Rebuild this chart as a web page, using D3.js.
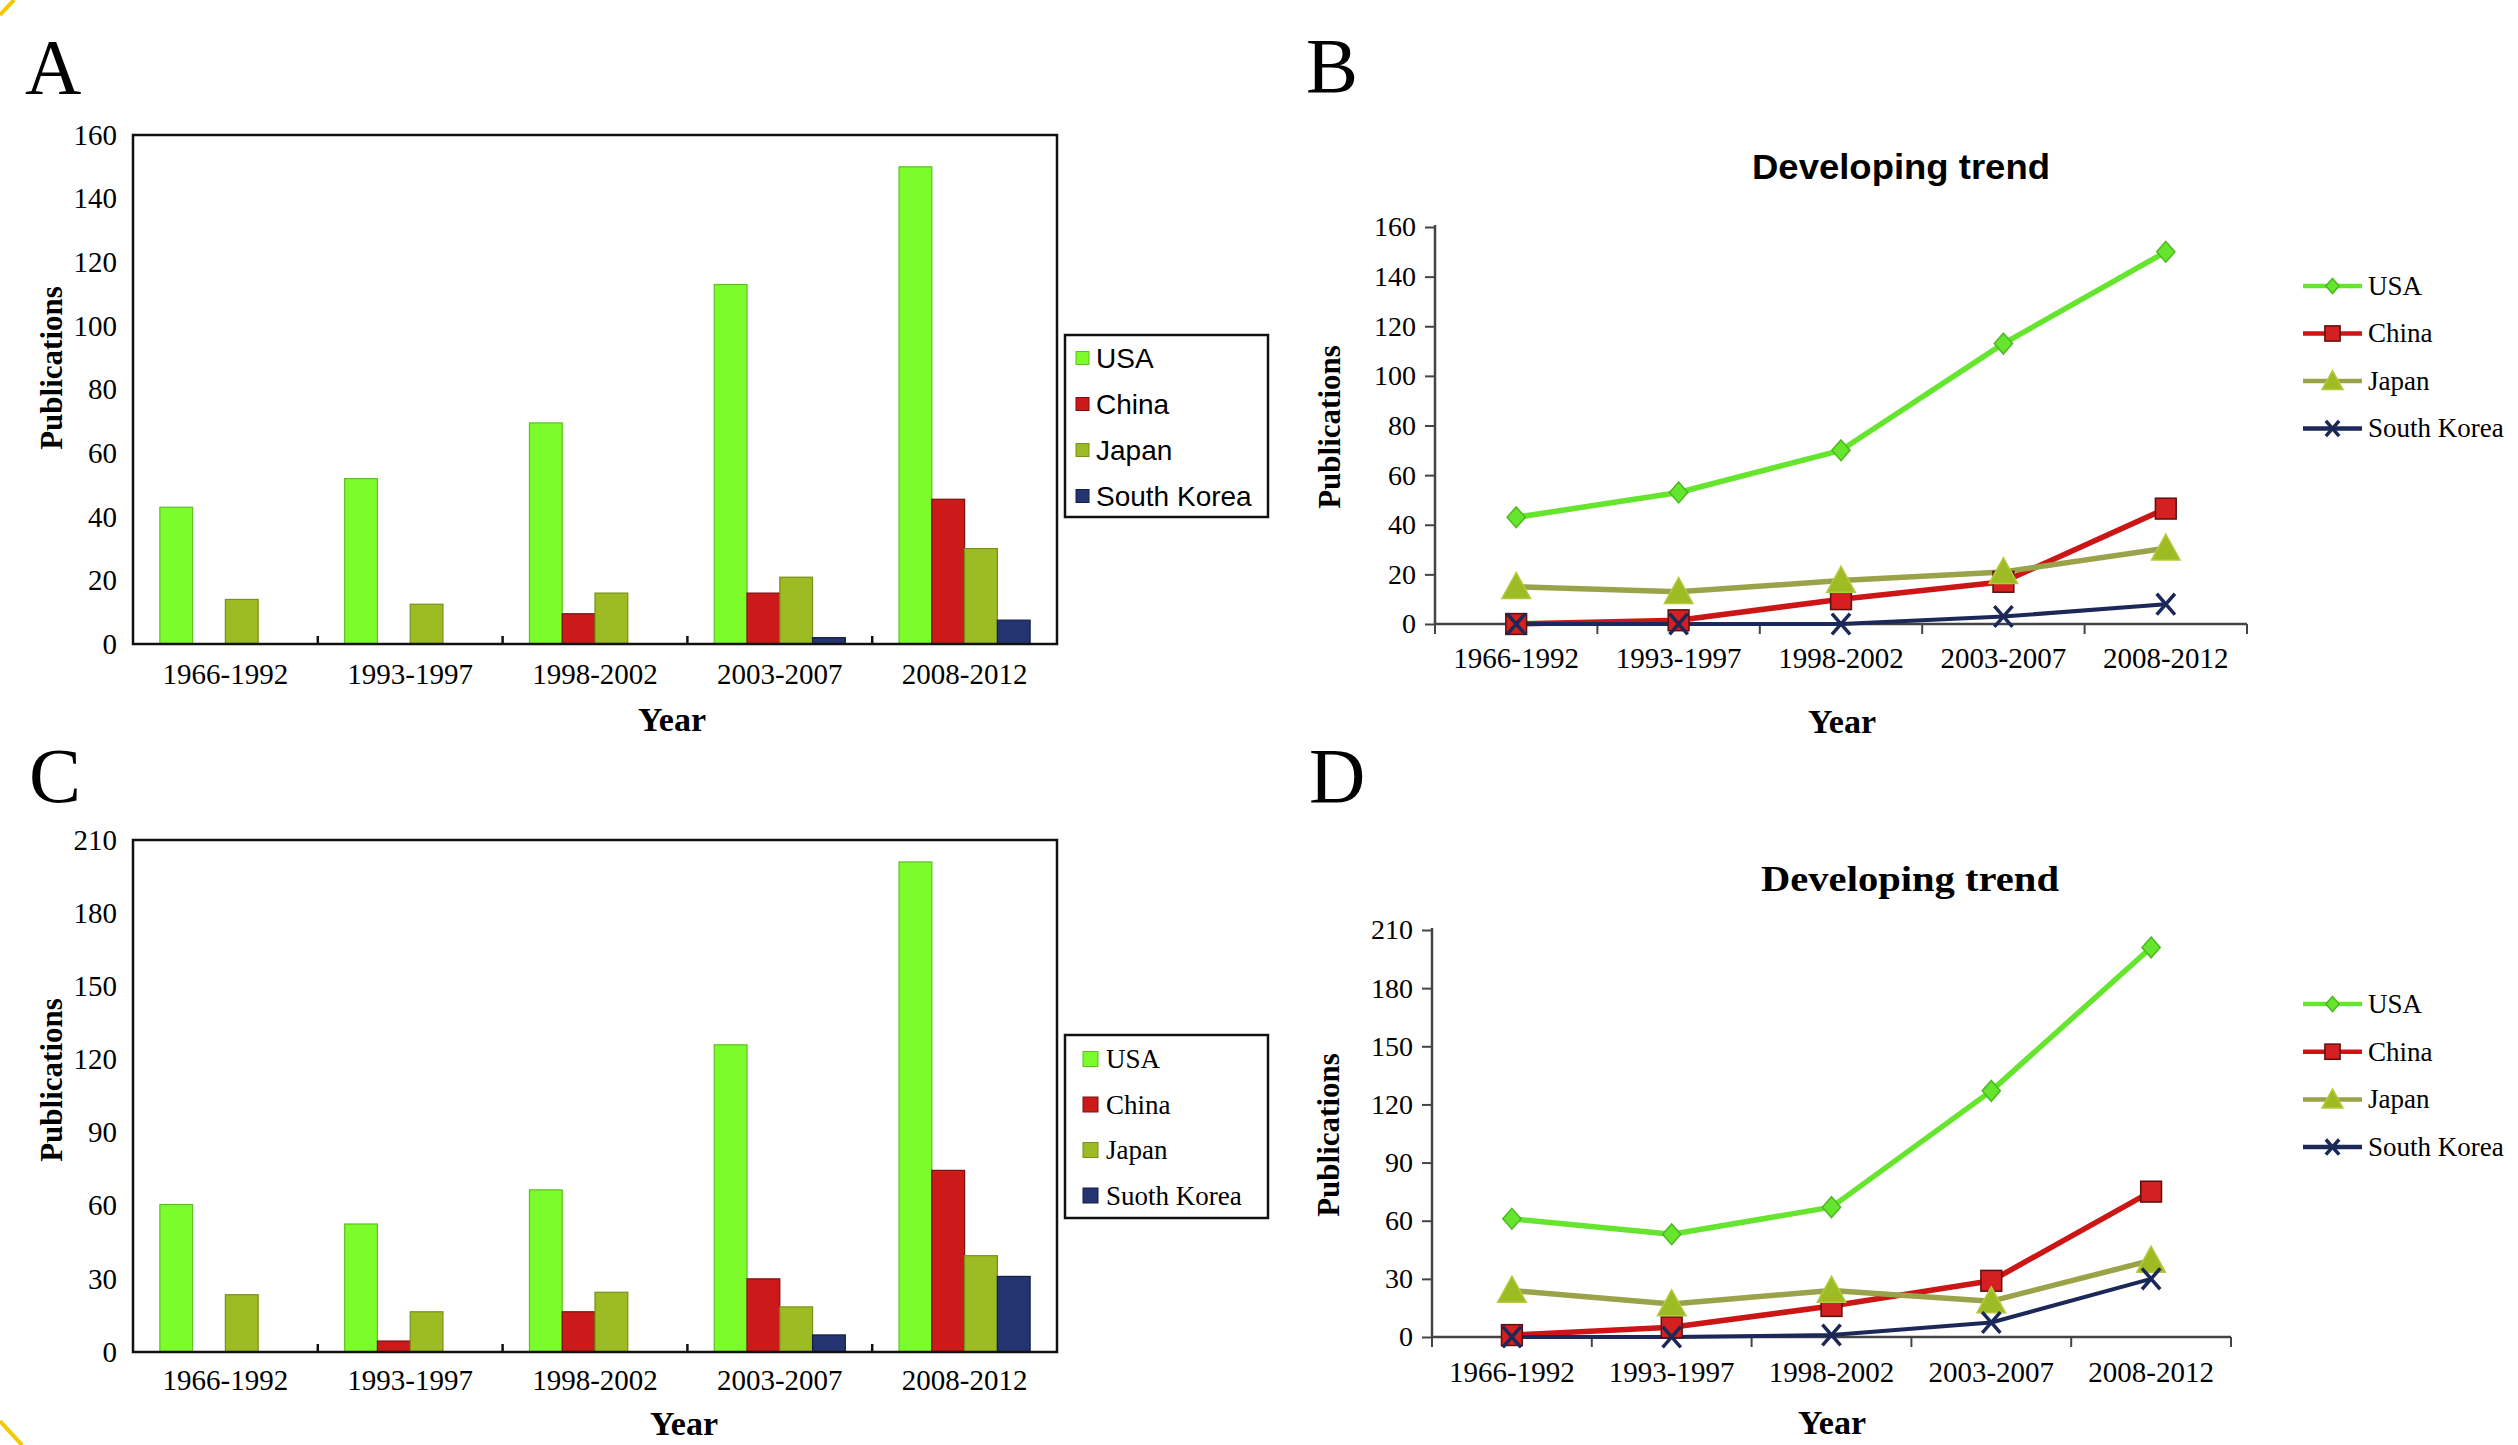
<!DOCTYPE html>
<html>
<head>
<meta charset="utf-8">
<script src="https://cdn.jsdelivr.net/npm/d3@7"></script>
<style>
  body { margin: 0; background: #fff; }
  svg { display: block; }
</style>
</head>
<body>
<svg id="chart"></svg>
<script>
// periods and countries
const periods = ["1966-1992", "1993-1997", "1998-2002", "2003-2007", "2008-2012"];
const countries = ["USA", "China", "Japan", "South Korea"];
const legendC = ["USA", "China", "Japan", "Suoth Korea"];

// panel A (bars)
const usaA = [43, 52, 69.5, 113, 150];
const chinaA = [0, 0, 9.5, 16, 45.5];
const japanA = [14, 12.5, 16, 21, 30];
const koreaA = [0, 0, 0, 2, 7.5];
// panel B (lines)
const usaB = [43, 53, 70, 113, 150];
const chinaB = [0, 1.5, 10, 17, 46.5];
const japanB = [15, 13, 17.5, 21, 30.5];
const koreaB = [0, 0, 0, 3, 8];
// panel C (bars)
const usaC = [60.5, 52.5, 66.5, 126, 201];
const chinaC = [0, 4.5, 16.5, 30, 74.5];
const japanC = [23.5, 16.5, 24.5, 18.5, 39.5];
const koreaC = [0, 0, 0, 7, 31];
// panel D (lines)
const usaD = [61, 53, 67, 127, 201];
const chinaD = [1, 5, 16, 29, 75];
const japanD = [24, 17, 24, 18.5, 39.5];
const koreaD = [0, 0, 1, 7.5, 30];

const ticksAB = [0, 20, 40, 60, 80, 100, 120, 140, 160];
const ticksCD = [0, 30, 60, 90, 120, 150, 180, 210];

const W = 2518, H = 1445;
const serif = "'Liberation Serif', 'Times New Roman', serif";
const sans = "'Liberation Sans', Arial, sans-serif";

const barFill = ["#7CFC2A", "#CC1A1A", "#9DBB22", "#233470"];
const barEdge = ["#5EC020", "#7A1010", "#7A9018", "#141E45"];
const lineCol = ["#66E52E", "#CC1515", "#9BA34A", "#1C2858"];
const mkFill = ["#66E52E", "#D42020", "#9DBB22", "none"];
const mkEdge = ["#4BB81E", "#5A1010", "#B5C93E", "#1C2858"];

const svg = d3.select("#chart").attr("width", W).attr("height", H);
svg.append("rect").attr("width", W).attr("height", H).attr("fill", "#fff");

// yellow corner marks
svg.append("line").attr("x1", 0).attr("y1", 15).attr("x2", 14).attr("y2", 0)
    .attr("stroke", "#F5C800").attr("stroke-width", 4);
svg.append("line").attr("x1", 0).attr("y1", 1421).attr("x2", 22).attr("y2", 1445)
    .attr("stroke", "#F5C800").attr("stroke-width", 4);

function marker(sel, k, s) {
    // s = scale of the marker
    if (k == 0) sel.append("path").attr("d", `M0,${-8*s}L${7*s},0L0,${8*s}L${-7*s},0Z`);
    else if (k == 1) sel.append("rect").attr("x", -8*s).attr("y", -8*s).attr("width", 16*s).attr("height", 16*s);
    else if (k == 2) sel.append("path").attr("d", `M0,${-11*s}L${11*s},${9*s}L${-11*s},${9*s}Z`);
    else sel.append("path").attr("d", `M${-7*s},${-8*s}L${7*s},${8*s}M${-7*s},${8*s}L${7*s},${-8*s}`);
    sel.selectAll("path,rect")
        .attr("fill", mkFill[k])
        .attr("stroke", mkEdge[k])
        .attr("stroke-width", k == 3 ? 3.5 : 1.5);
}

function barPanel(p) {
    const g = svg.append("g");
    const x0 = d3.scaleBand().domain(periods).range([p.left, p.right]);
    const x1 = d3.scaleBand().domain(countries).range([0, x0.bandwidth()]).paddingOuter(0.82);
    const y = d3.scaleLinear().domain([0, p.yMax]).range([p.bottom, p.top]);

    g.append("text").text(p.letter).attr("x", p.lx).attr("y", p.ly)
        .attr("font-family", serif).attr("font-size", 78);

    const rows = periods.flatMap((per, i) =>
        countries.map((c, j) => ({ per: per, c: c, j: j, v: p.series[j][i] })))
        .filter(d => d.v > 0);

    g.append("g").selectAll("rect").data(rows).enter().append("rect")
        .attr("x", d => x0(d.per) + x1(d.c))
        .attr("y", d => y(d.v))
        .attr("width", x1.bandwidth())
        .attr("height", d => y(0) - y(d.v))
        .attr("fill", d => barFill[d.j])
        .attr("stroke", d => barEdge[d.j])
        .attr("stroke-width", 1.2);

    g.append("rect").attr("x", p.left).attr("y", p.top)
        .attr("width", p.right - p.left).attr("height", p.bottom - p.top)
        .attr("fill", "none").attr("stroke", "#111").attr("stroke-width", 2.5);

    // inner ticks between categories
    g.append("g").selectAll("line").data(periods.slice(1)).enter().append("line")
        .attr("x1", d => x0(d)).attr("x2", d => x0(d))
        .attr("y1", p.bottom).attr("y2", p.bottom - 8)
        .attr("stroke", "#111").attr("stroke-width", 2.5);

    const ya = g.append("g").attr("transform", `translate(${p.left},0)`)
        .call(d3.axisLeft(y).tickValues(p.ticks).tickSize(0).tickPadding(16));
    ya.select(".domain").remove();
    ya.selectAll("text").attr("font-family", serif).attr("font-size", 29).attr("fill", "#000");

    g.append("g").selectAll("text").data(periods).enter().append("text")
        .text(d => d)
        .attr("x", d => x0(d) + x0.bandwidth() / 2).attr("y", p.labelY)
        .attr("text-anchor", "middle")
        .attr("font-family", serif).attr("font-size", 29);

    g.append("text").text("Year").attr("x", p.yearX).attr("y", p.yearY)
        .attr("text-anchor", "middle").attr("font-family", serif)
        .attr("font-weight", "bold").attr("font-size", 34);
    g.append("text").text("Publications")
        .attr("transform", `translate(${p.pubX},${p.pubY}) rotate(-90)`)
        .attr("text-anchor", "middle").attr("font-family", serif)
        .attr("font-weight", "bold").attr("font-size", 31);

    // legend
    const L = p.legend;
    g.append("rect").attr("x", L.x).attr("y", L.y).attr("width", L.w).attr("height", L.h)
        .attr("fill", "#fff").attr("stroke", "#111").attr("stroke-width", 2.5);
    const items = g.append("g").selectAll("g").data(L.labels).enter().append("g")
        .attr("transform", (d, i) => `translate(0,${L.y0 + i * L.dy})`);
    items.append("rect")
        .attr("x", L.sx).attr("y", -L.ss / 2).attr("width", L.ss).attr("height", L.ss)
        .attr("fill", (d, i) => barFill[i]).attr("stroke", (d, i) => barEdge[i]);
    items.append("text").text(d => d)
        .attr("x", L.tx).attr("dy", "0.35em")
        .attr("font-family", L.font).attr("font-size", L.fs);
}

function linePanel(p) {
    const g = svg.append("g");
    const x = d3.scaleBand().domain(periods).range([p.left, p.right]);
    const y = d3.scaleLinear().domain([0, p.yMax]).range([p.bottom, p.top]);
    const cx = d => x(d) + x.bandwidth() / 2;

    g.append("text").text(p.letter).attr("x", p.lx).attr("y", p.ly)
        .attr("font-family", serif).attr("font-size", 78);

    g.append("text").text("Developing trend").attr("x", p.titleX).attr("y", p.titleY)
        .attr("text-anchor", "middle").attr("font-family", p.titleFont)
        .attr("font-weight", "bold").attr("font-size", 35)
        .attr("textLength", 298).attr("lengthAdjust", "spacingAndGlyphs");

    const ya = g.append("g").attr("transform", `translate(${p.left},0)`)
        .call(d3.axisLeft(y).tickValues(p.ticks).tickSize(10).tickPadding(9));
    ya.select(".domain").remove();
    ya.selectAll("line").attr("stroke", "#444").attr("stroke-width", 2);
    ya.selectAll("text").attr("font-family", serif).attr("font-size", 28).attr("fill", "#000");

    g.append("line").attr("x1", p.left).attr("x2", p.left)
        .attr("y1", p.top - 2).attr("y2", p.bottom)
        .attr("stroke", "#444").attr("stroke-width", 2.5);
    g.append("line").attr("x1", p.left).attr("x2", p.right)
        .attr("y1", p.bottom).attr("y2", p.bottom)
        .attr("stroke", "#444").attr("stroke-width", 2.5);
    const bounds = periods.map(d => x(d)).concat([p.right]);
    g.append("g").selectAll("line").data(bounds).enter().append("line")
        .attr("x1", d => d).attr("x2", d => d)
        .attr("y1", p.bottom).attr("y2", p.bottom + 10)
        .attr("stroke", "#444").attr("stroke-width", 2);

    g.append("g").selectAll("text").data(periods).enter().append("text")
        .text(d => d).attr("x", cx).attr("y", p.labelY)
        .attr("text-anchor", "middle")
        .attr("font-family", serif).attr("font-size", 29);

    g.append("text").text("Year").attr("x", p.yearX).attr("y", p.yearY)
        .attr("text-anchor", "middle").attr("font-family", serif)
        .attr("font-weight", "bold").attr("font-size", 34);
    g.append("text").text("Publications")
        .attr("transform", `translate(${p.pubX},${p.pubY}) rotate(-90)`)
        .attr("text-anchor", "middle").attr("font-family", serif)
        .attr("font-weight", "bold").attr("font-size", 31);

    const line = d3.line().x((d, i) => cx(periods[i])).y(d => y(d));
    p.series.forEach((vals, k) => {
        g.append("path").datum(vals).attr("d", line)
            .attr("fill", "none").attr("stroke", lineCol[k])
            .attr("stroke-width", k == 3 ? 4 : 5.5).attr("stroke-linejoin", "round");
    });
    p.series.forEach((vals, k) => {
        g.append("g").selectAll("g").data(vals).enter().append("g")
            .attr("transform", (d, i) => `translate(${cx(periods[i])},${y(d)})`)
            .each(function() { marker(d3.select(this), k, 1.3); });
    });

    // legend
    const L = p.legend;
    countries.forEach((c, k) => {
        const row = g.append("g").attr("transform", `translate(0,${L.y0 + k * L.dy})`);
        row.append("line").attr("x1", L.x1).attr("x2", L.x2)
            .attr("stroke", lineCol[k]).attr("stroke-width", 4.5);
        const m = row.append("g").attr("transform", `translate(${(L.x1 + L.x2) / 2},0)`);
        marker(m, k, 0.95);
        row.append("text").text(c).attr("x", L.tx).attr("dy", "0.33em")
            .attr("font-family", serif).attr("font-size", 27);
    });
}

barPanel({
    letter: "A", lx: 25, ly: 93,
    left: 133, right: 1057, top: 135, bottom: 644, yMax: 160, ticks: ticksAB,
    series: [usaA, chinaA, japanA, koreaA],
    labelY: 684, yearX: 672, yearY: 731, pubX: 62, pubY: 368,
    legend: { x: 1065, y: 335, w: 203, h: 182, y0: 358, dy: 46, sx: 1076, ss: 13, tx: 1096,
              labels: countries, font: sans, fs: 28 }
});

linePanel({
    letter: "B", lx: 1306, ly: 92,
    left: 1435, right: 2247, top: 227, bottom: 624, yMax: 160, ticks: ticksAB,
    series: [usaB, chinaB, japanB, koreaB],
    titleX: 1901, titleY: 179, titleFont: sans,
    labelY: 668, yearX: 1842, yearY: 733, pubX: 1340, pubY: 427,
    legend: { y0: 286, dy: 47.5, x1: 2303, x2: 2362, tx: 2368 }
});

barPanel({
    letter: "C", lx: 29, ly: 802,
    left: 133, right: 1057, top: 840, bottom: 1352, yMax: 210, ticks: ticksCD,
    series: [usaC, chinaC, japanC, koreaC],
    labelY: 1390, yearX: 684, yearY: 1435, pubX: 62, pubY: 1080,
    legend: { x: 1065, y: 1035, w: 203, h: 183, y0: 1059, dy: 45.5, sx: 1083, ss: 15, tx: 1106,
              labels: legendC, font: serif, fs: 27 }
});

linePanel({
    letter: "D", lx: 1309, ly: 802,
    left: 1432, right: 2231, top: 930, bottom: 1337, yMax: 210, ticks: ticksCD,
    series: [usaD, chinaD, japanD, koreaD],
    titleX: 1910, titleY: 891, titleFont: serif,
    labelY: 1382, yearX: 1832, yearY: 1434, pubX: 1339, pubY: 1135,
    legend: { y0: 1004, dy: 47.7, x1: 2303, x2: 2362, tx: 2368 }
});
</script>
</body>
</html>
